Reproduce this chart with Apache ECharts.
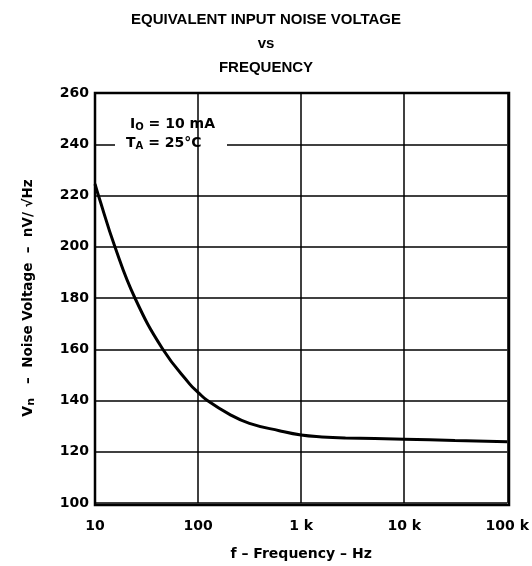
<!DOCTYPE html>
<html>
<head>
<meta charset="utf-8">
<script src="https://cdn.jsdelivr.net/npm/echarts@6/dist/echarts.min.js"></script>
<style>html,body{margin:0;padding:0;background:#fff}#c{width:532px;height:566px}</style>
</head>
<body>
<div id="c"></div>
<script>
const freqs = [10, 10.8, 15.6, 24.4, 45.5, 82.6, 101, 123, 202, 315, 614, 1000, 1590, 2690, 10000, 31000, 100000];
const noise = [224.5, 220, 200, 180, 160, 146.5, 143, 140, 134.6, 131.1, 128.2, 126.5, 125.8, 125.4, 124.9, 124.4, 123.9];
const yTicks = [100, 120, 140, 160, 180, 200, 220, 240, 260];
const xTickLabels = {10: '10', 100: '100', 1000: '1 k', 10000: '10 k', 100000: '100 k'};

const TFONT = '"Liberation Sans", Arial, sans-serif';
const FONT = '"DejaVu Sans", sans-serif';
const chart = echarts.init(document.getElementById('c'), null, {renderer: 'canvas'});
const bold = {fontFamily: FONT, fontWeight: 'bold', color: '#000'};

chart.setOption({
  backgroundColor: '#fff',
  animation: false,
  title: {
    text: 'EQUIVALENT INPUT NOISE VOLTAGE\nvs\nFREQUENCY',
    left: 'center', top: 3,
    textStyle: {fontFamily: TFONT, fontWeight: 'bold', color: '#000', fontSize: 15, lineHeight: 24}
  },
  grid: {left: 95, right: 23, top: 93, bottom: 61},
  xAxis: {
    type: 'log', logBase: 10, min: 10, max: 100000, z: 3,
    name: 'f – Frequency – Hz', nameLocation: 'middle', nameGap: 44,
    nameTextStyle: Object.assign({}, bold, {fontSize: 14}),
    axisLine: {show: false},
    axisTick: {show: false},
    axisLabel: Object.assign({}, bold, {fontSize: 14, margin: 16, formatter: v => xTickLabels[Math.round(v)] || ''}),
    splitLine: {show: true, lineStyle: {color: '#000', width: 1.5}}
  },
  yAxis: {
    type: 'value', min: yTicks[0], max: yTicks[yTicks.length - 1], interval: 20, z: 1,
    name: '{v|V}{s|n}{t|   –  Noise Voltage  –  nV/ √Hz}', nameLocation: 'middle', nameGap: 58,
    nameTextStyle: {
      rich: {
        v: Object.assign({}, bold, {fontSize: 14}),
        s: Object.assign({}, bold, {fontSize: 11, padding: [6, 0, 0, 0]}),
        t: Object.assign({}, bold, {fontSize: 13.5})
      }
    },
    axisLine: {show: false},
    axisTick: {show: false},
    axisLabel: Object.assign({}, bold, {fontSize: 14, margin: 6}),
    splitLine: {show: true, lineStyle: {color: '#000', width: 1.5}}
  },
  graphic: [
    {type: 'rect', z: 2, shape: {x: 115, y: 138, width: 112, height: 12}, style: {fill: '#fff'}},
    {type: 'rect', z: 10, shape: {x: 95, y: 93, width: 414, height: 412}, style: {fill: 'none', stroke: '#000', lineWidth: 2.5}},
    {type: 'text', z: 11, left: 130, top: 117, style: {
      text: '{a|I}{s|O}{a| = 10 mA}',
      rich: {a: Object.assign({}, bold, {fontSize: 14}), s: Object.assign({}, bold, {fontSize: 10, padding: [7, 0, 0, 0]})}
    }},
    {type: 'text', z: 11, left: 126, top: 136, style: {
      text: '{a|T}{s|A}{a| = 25°C}',
      rich: {a: Object.assign({}, bold, {fontSize: 14}), s: Object.assign({}, bold, {fontSize: 10, padding: [7, 0, 0, 0]})}
    }}
  ],
  series: [{
    type: 'line', smooth: 0.45, showSymbol: false, z: 5,
    data: freqs.map((f, i) => [f, noise[i]]),
    lineStyle: {color: '#000', width: 3}
  }]
});
</script>
</body>
</html>
